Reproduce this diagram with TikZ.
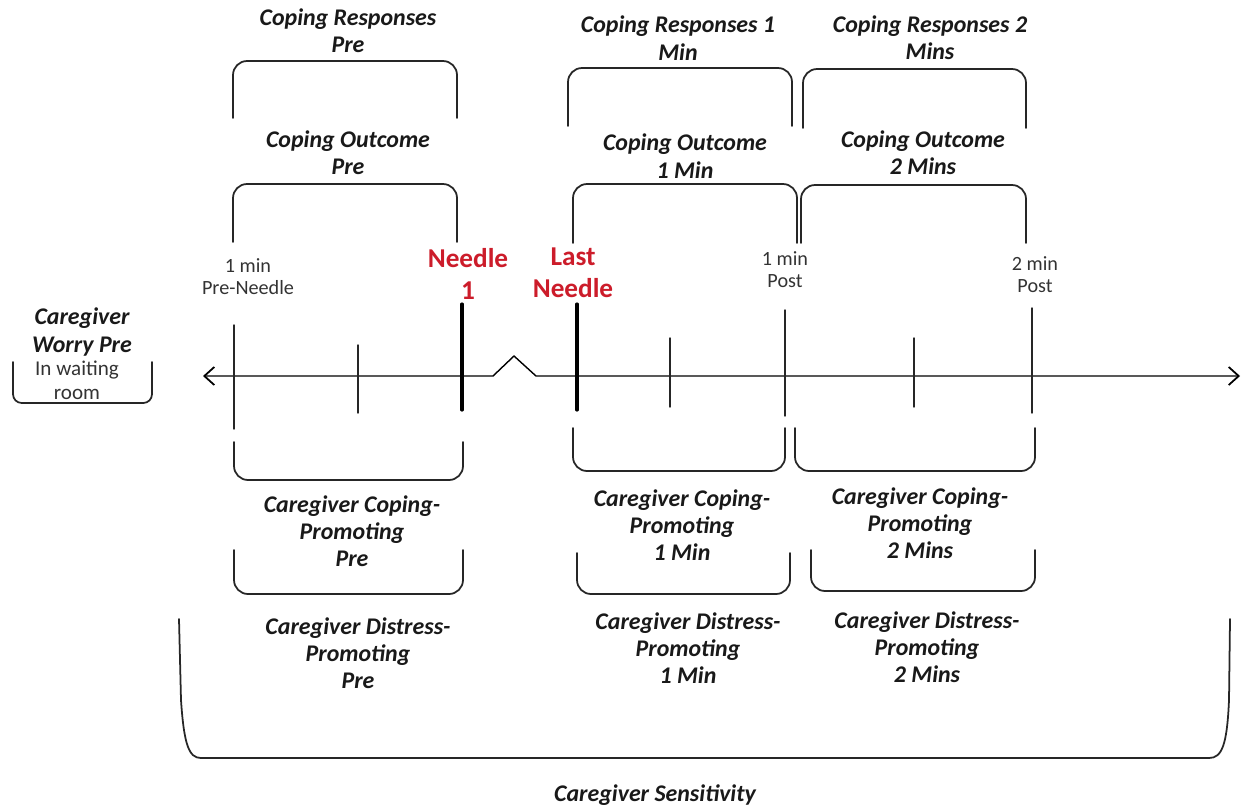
\documentclass[tikz,border=0pt]{standalone}
\usepackage{fontspec}
\setmainfont{Carlito}
\usetikzlibrary{arrows.meta}
\definecolor{needlered}{RGB}{204,28,42}

\begin{document}
\begin{tikzpicture}[x=0.02cm,y=-0.02cm,>={Straight Barb[length=2mm,width=3.6mm,line width=1pt]},line cap=round,
  lbl/.style={font=\fontsize{13.6}{15.5}\selectfont\bfseries\itshape,align=center,inner sep=0pt,text=black!90},
  small/.style={font=\fontsize{11.5}{12.5}\selectfont,align=center,inner sep=0pt,text=black!80},
  ndl/.style={font=\fontsize{15.5}{18.5}\selectfont\bfseries,align=center,inner sep=0pt,text=needlered},
  brk/.style={rounded corners=8pt,line width=1pt,black!85},
  tick/.style={line width=0.8pt,black!85},
  bigtick/.style={line width=1.8pt}]
\useasboundingbox (0,0) rectangle (1243,809);

% time line with the break between the needles
\coordinate (tl) at (203,376);
\coordinate (tr) at (1240,376);
\coordinate (ba) at (493,376);
\coordinate (bp) at (514,356);
\coordinate (bb) at (536,376);
\draw[<->,line width=0.8pt] (tl) -- (ba) -- (bp) -- (bb) -- (tr);

% ticks
\draw[tick] (234,325) -- (234,429);
\draw[tick] (358,345) -- (358,413);
\draw[bigtick] (462,304) -- (462,410);
\draw[bigtick] (577,304) -- (577,410);
\draw[tick] (670,338) -- (670,407);
\draw[tick] (785,310) -- (785,416);
\draw[tick] (914,338) -- (914,407);
\draw[tick] (1032,308) -- (1032,413);

\node[small] (pre) at (248,277) {1 min\\Pre-Needle};
\node[small] (post1) at (785,270) {1 min\\Post};
\node[small] (post2) at (1035,275) {2 min\\Post};
\node[ndl] (n1) at (468,274) {Needle\\1};
\node[ndl] (nl) at (573,273) {Last\\Needle};

% coping responses
\node[lbl] (crpre) at (348,31) {Coping Responses\\Pre};
\draw[brk] (233,118) -- (233,61) -- (457,61) -- (457,118);
\node[lbl] (cr1) at (678,38) {Coping Responses 1\\Min};
\draw[brk] (568,126) -- (568,68) -- (792,68) -- (792,126);
\node[lbl] (cr2) at (930,38) {Coping Responses 2\\Mins};
\draw[brk] (803,128) -- (803,69) -- (1026,69) -- (1026,128);

% coping outcome
\node[lbl] (copre) at (348,153) {Coping Outcome\\Pre};
\draw[brk] (233,242) -- (233,184) -- (457,184) -- (457,242);
\node[lbl] (co1) at (685,156) {Coping Outcome\\1 Min};
\draw[brk] (573,243) -- (573,184) -- (797,184) -- (797,243);
\node[lbl] (co2) at (923,153) {Coping Outcome\\2 Mins};
\draw[brk] (801,243) -- (801,185) -- (1026,185) -- (1026,243);

% caregiver coping-promoting
\draw[brk] (234,442) -- (234,480) -- (463,480) -- (463,442);
\node[lbl] (cppre) at (352,531) {Caregiver Coping-\\Promoting\\Pre};
\draw[brk] (573,428) -- (573,471) -- (785,471) -- (785,428);
\node[lbl] (cp1) at (682,525) {Caregiver Coping-\\Promoting\\1 Min};
\draw[brk] (795,428) -- (795,471) -- (1035,471) -- (1035,428);
\node[lbl] (cp2) at (920,523) {Caregiver Coping-\\Promoting\\2 Mins};

% caregiver distress-promoting
\draw[brk] (234,550) -- (234,594) -- (463,594) -- (463,550);
\node[lbl] (dppre) at (358,653) {Caregiver Distress-\\Promoting\\Pre};
\draw[brk] (577,553) -- (577,594) -- (790,594) -- (790,553);
\node[lbl] (dp1) at (688,648) {Caregiver Distress-\\Promoting\\1 Min};
\draw[brk] (811,550) -- (811,591) -- (1035,591) -- (1035,550);
\node[lbl] (dp2) at (927,647) {Caregiver Distress-\\Promoting\\2 Mins};

% worry in waiting room
\node[lbl] (worry) at (82,332) {Caregiver\\Worry Pre};
\node[small,font=\fontsize{12}{13.5}\selectfont] (wait) at (77,380) {In waiting\\room};
\draw[brk,rounded corners=5pt] (13,362) -- (13,403) -- (152,403) -- (152,362);

% sensitivity over the whole visit
\draw[line width=1pt,black!85] (179,619) -- (181,700) .. controls (184,745) and (189,758) .. (201,758)
  -- (1209,758) .. controls (1222,758) and (1227,745) .. (1229,700) -- (1230,619);
\node[lbl] (sens) at (655,795) {Caregiver Sensitivity};
\end{tikzpicture}
\end{document}
